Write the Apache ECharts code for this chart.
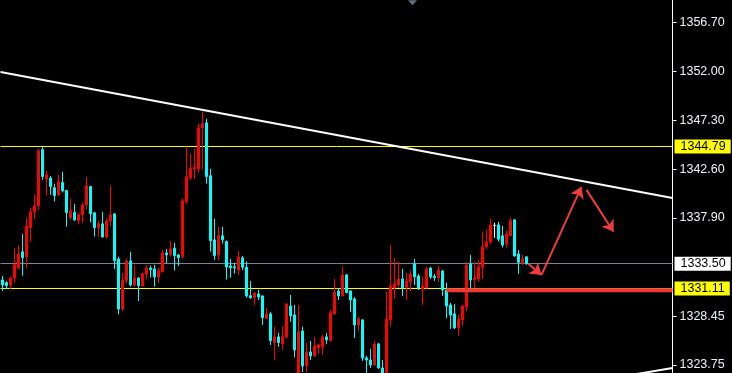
<!DOCTYPE html>
<html><head><meta charset="utf-8">
<script src="https://cdn.jsdelivr.net/npm/echarts@6/dist/echarts.min.js"></script>
<style>html,body{margin:0;padding:0;background:#000}#c{width:732px;height:373px}</style>
</head><body><div id="c"></div>
<script>
// ---- data ----
const slotCount = 168;
const slots = Array.from({length: slotCount}, (_, i) => String(i));

const opens = [1331.94,1331.68,1331.45,1332.13,1333.09,1334.64,1334.16,1336.98,1338.49,1339.07,
1344.47,1341.65,1341.76,1340.81,1340.13,1341.31,1340.55,1337.92,1338.42,1337.65,
1338.20,1339.17,1340.93,1338.40,1336.95,1337.34,1336.08,1337.62,1338.30,1333.96,
1329.14,1331.87,1333.77,1331.45,1332.13,1331.36,1332.52,1333.09,1333.00,1332.23,
1332.74,1334.54,1334.35,1334.99,1334.35,1334.19,1339.49,1341.80,1342.64,1342.64,
1346.58,1347.06,1341.96,1335.80,1334.35,1336.18,1335.63,1333.29,1333.19,1332.90,
1334.06,1333.16,1330.42,1330.23,1330.59,1330.40,1328.25,1328.67,1325.91,1326.46,
1325.78,1326.46,1329.43,1328.57,1322.80,1327.02,1323.66,1325.01,1324.62,1325.39,
1325.49,1326.46,1326.10,1328.67,1330.88,1330.40,1332.42,1330.88,1330.11,1327.61,
1328.09,1324.43,1324.24,1323.76,1325.78,1323.47,1322.70,1328.09,1331.17,1331.45,
1332.03,1331.23,1331.75,1333.48,1332.32,1331.07,1331.17,1333.09,1332.30,1332.13,
1332.81,1330.97,1329.53,1328.67,1327.32,1328.09,1329.34,1333.48,1331.94,1332.03,
1333.19,1335.12,1335.60,1337.19,1337.24,1336.18,1335.41,1336.21,1337.72,1334.44,
1333.55,1334.16];
const closes = [1331.45,1331.39,1332.13,1333.41,1334.44,1334.09,1337.14,1338.49,1339.07,1344.37,
1341.90,1342.06,1340.93,1340.06,1341.38,1340.52,1338.42,1338.59,1337.72,1338.20,
1339.17,1341.00,1338.33,1336.98,1337.34,1336.08,1337.62,1338.20,1333.80,1329.14,
1331.94,1333.77,1331.45,1332.13,1331.39,1332.52,1333.09,1332.93,1332.23,1332.81,
1334.54,1334.35,1334.93,1334.28,1334.09,1339.55,1341.87,1342.70,1342.76,1346.58,
1346.97,1341.90,1335.73,1334.28,1336.21,1335.80,1333.19,1333.13,1333.09,1334.16,
1333.16,1330.40,1330.23,1330.68,1330.30,1328.31,1328.67,1326.10,1326.46,1325.91,
1326.46,1329.62,1328.50,1325.20,1326.95,1323.66,1325.01,1324.62,1325.59,1325.68,
1326.46,1326.17,1328.76,1330.78,1330.40,1332.42,1330.71,1330.01,1327.61,1328.18,
1324.43,1324.24,1323.76,1325.78,1323.47,1322.90,1328.18,1331.36,1331.55,1332.03,
1331.17,1331.84,1332.52,1332.23,1331.17,1331.36,1333.00,1332.23,1332.16,1332.90,
1330.97,1329.43,1328.57,1327.32,1328.18,1329.43,1333.38,1331.94,1332.13,1333.19,
1335.12,1335.60,1337.24,1337.19,1335.86,1335.31,1336.37,1337.65,1334.25,1333.64,
1333.99,1333.48];
const lows = [1330.88,1331.07,1331.07,1331.65,1332.99,1332.35,1333.03,1335.63,1337.82,1338.69,
1341.57,1340.06,1340.13,1339.49,1340.03,1340.36,1337.07,1337.72,1337.62,1337.29,
1337.44,1338.69,1337.47,1336.11,1336.11,1336.01,1335.92,1337.07,1333.00,1328.63,
1328.95,1331.62,1331.29,1331.29,1329.91,1331.29,1332.03,1332.16,1331.29,1331.65,
1332.64,1333.55,1334.19,1332.84,1333.29,1333.99,1339.26,1341.57,1341.67,1342.25,
1342.54,1341.19,1334.67,1333.87,1333.80,1335.44,1331.97,1332.16,1332.55,1332.42,
1332.90,1330.23,1330.11,1329.53,1330.01,1327.61,1328.16,1325.68,1324.24,1325.49,
1325.20,1326.29,1327.92,1324.46,1322.50,1323.08,1323.08,1324.24,1324.53,1324.82,
1324.72,1325.78,1326.00,1328.57,1330.01,1330.35,1330.68,1328.86,1326.36,1326.97,
1324.14,1322.99,1323.47,1323.66,1323.37,1322.70,1322.50,1327.44,1330.11,1331.17,
1330.40,1330.01,1330.88,1331.45,1330.97,1329.53,1331.12,1332.03,1331.84,1331.75,
1330.40,1328.28,1327.22,1327.22,1326.56,1327.51,1328.95,1331.07,1331.17,1331.75,
1332.03,1334.93,1335.41,1335.99,1335.63,1335.06,1335.00,1336.11,1334.18,1332.52,
1333.36,1333.42];
const highs = [1332.32,1331.84,1332.23,1335.02,1335.31,1336.37,1337.91,1338.88,1340.13,1344.57,
1344.79,1342.45,1341.95,1341.19,1342.06,1342.34,1340.61,1339.75,1339.26,1338.40,
1339.36,1341.86,1341.00,1338.49,1337.62,1338.49,1337.85,1341.00,1338.35,1334.18,
1332.61,1333.96,1334.64,1333.38,1332.18,1332.64,1333.38,1333.32,1333.38,1333.09,
1334.83,1334.93,1335.70,1335.50,1334.44,1339.75,1344.79,1344.08,1344.57,1346.97,
1348.15,1347.45,1342.64,1337.82,1337.05,1337.05,1335.73,1333.96,1333.58,1334.73,
1334.25,1333.71,1331.85,1330.78,1330.97,1330.45,1329.24,1328.86,1327.42,1326.85,
1327.42,1329.72,1330.49,1329.53,1329.53,1327.42,1325.88,1326.07,1326.46,1325.81,
1326.65,1326.85,1329.05,1332.03,1331.17,1333.19,1332.52,1330.93,1330.30,1328.38,
1328.18,1324.62,1325.30,1326.07,1325.88,1324.24,1330.78,1335.31,1334.06,1333.67,
1333.00,1332.61,1332.90,1333.96,1332.52,1332.23,1333.19,1333.19,1332.52,1333.29,
1332.90,1331.65,1329.72,1329.62,1328.57,1329.53,1333.67,1334.35,1333.67,1333.87,
1336.57,1336.76,1337.82,1337.44,1337.53,1337.14,1336.70,1337.92,1337.77,1334.83,
1334.35,1334.20];

const tickValues = [1356.70, 1352.00, 1347.30, 1342.60, 1337.90, 1328.45, 1323.75];
const levelValues = [1344.79, 1333.50, 1331.11];

// drawn objects (slot index, price)
const trendLine = [[-0.5, 1351.96], [167.5, 1339.83]];
const lowerLine = [[154.5, 1322.62], [167.5, 1323.46]];
const supportLine = [[111, 1330.95], [167.5, 1330.95]];
const arrowSegments = [
  [[131.5, 1333.48], [134.75, 1332.42]],
  [[134.75, 1332.42], [144.75, 1340.90]],
  [[146.0, 1340.61], [152.75, 1336.57]]
];
const markerPoint = [[102.5, 1358.62]];

// ---- chart ----
const candleData = opens.map((o, i) => [o, closes[i], lows[i], highs[i]]);
const levelStyles = [
  {line: '#ffff00', bg: '#ffff00'},
  {line: '#778899', bg: '#ffffff'},
  {line: '#ffff00', bg: '#ffff00'}
];

const chart = echarts.init(document.getElementById('c'));
chart.setOption({
  backgroundColor: '#000000',
  animation: false,
  grid: {left: 0.5, right: 59.5, top: 0, bottom: 0},
  xAxis: [
    {type: 'category', data: slots, boundaryGap: true, show: false},
    {type: 'value', min: -0.5, max: slotCount - 0.5, show: false}
  ],
  yAxis: {
    type: 'value', position: 'right', min: 1322.98, max: 1358.885,
    splitLine: {show: false},
    axisLine: {show: true, onZero: false, lineStyle: {color: '#ffffff', width: 1}},
    axisTick: {show: true, customValues: tickValues, length: 4, lineStyle: {color: '#ffffff'}},
    axisLabel: {customValues: tickValues, formatter: v => v.toFixed(2), color: '#eef2fa',
      fontFamily: 'Liberation Sans', fontSize: 12.5, margin: 7}
  },
  series: [
    {
      type: 'candlestick', data: candleData, barWidth: 2, z: 3,
      itemStyle: {color: '#ff0000', color0: '#00ffff', borderColor: '#ff0000',
        borderColor0: '#00ffff', borderColorDoji: '#ffffff', borderWidth: 1},
      markLine: {
        z: 1, silent: true, symbol: 'none', animation: false,
        data: levelValues.map((v, i) => ({
          yAxis: v,
          lineStyle: {color: levelStyles[i].line, width: 1, type: 'solid'},
          label: {show: true, position: 'end', distance: 2, formatter: v.toFixed(2),
            backgroundColor: levelStyles[i].bg, color: '#000000', fontFamily: 'Liberation Sans',
            fontSize: 12.5, lineHeight: 12, padding: [1, 5, 1, 6]}
        }))
      }
    },
    {type: 'line', xAxisIndex: 1, data: trendLine, symbol: 'none', z: 4,
      lineStyle: {color: '#ffffff', width: 2}},
    {type: 'line', xAxisIndex: 1, data: lowerLine, symbol: 'none', z: 4,
      lineStyle: {color: '#ffffff', width: 2}},
    {type: 'line', xAxisIndex: 1, data: supportLine, symbol: 'none', z: 4,
      lineStyle: {color: '#ee3838', width: 4}},
    {type: 'lines', coordinateSystem: 'cartesian2d', xAxisIndex: 1, yAxisIndex: 0, z: 5,
      symbol: ['none', 'arrow'], symbolSize: 11,
      lineStyle: {color: '#f23c3c', width: 2, opacity: 1, curveness: 0},
      data: arrowSegments.map(c => ({coords: c}))},
    {type: 'scatter', xAxisIndex: 1, data: markerPoint, symbol: 'triangle', symbolRotate: 180,
      symbolSize: [9, 5], itemStyle: {color: '#7b8a9c'}, z: 5}
  ]
});
</script></body></html>
